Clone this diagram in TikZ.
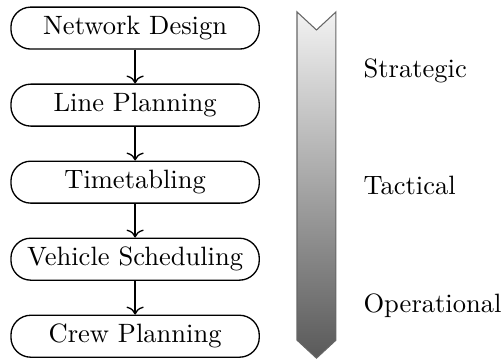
\documentclass[tikz,border=0pt]{standalone}
\usetikzlibrary{positioning, arrows.meta}

\begin{document}
\begin{tikzpicture}[
    stage/.style={draw, line width=0.5pt, rectangle, rounded corners=7.5pt, minimum width=3.29cm,
                  minimum height=0.556cm, inner xsep=1pt, inner ysep=0pt},
    flow/.style={line width=0.5pt, -{To[width=6.5pt, length=3pt]}},
    level/.style={anchor=base west},
    node distance=0.447cm
  ]
    \useasboundingbox (0,0) rectangle (6.664,-4.756);

    % Planning stages
    \node[stage] (netdesign) at (1.79,-0.372) {Network Design};
    \node[stage, below=of netdesign] (lineplan) {Line Planning};
    \node[stage, below=of lineplan] (timetab) {Timetabling};
    \node[stage, below=of timetab] (vehsched) {Vehicle Scheduling};
    \node[stage, below=of vehsched] (crewplan) {Crew Planning};

    % Arrows between stages
    \foreach \a/\b in {netdesign/lineplan, lineplan/timetab, timetab/vehsched, vehsched/crewplan}
      \draw[flow] (\a) -- (\b);

    % Shaded band on the right
    \shade[top color=gray!10, bottom color=black!65, draw=black!60]
      (3.935,-0.158) -- (4.193,-0.397) -- (4.451,-0.158) -- (4.451,-4.506)
      -- (4.193,-4.745) -- (3.935,-4.506) -- cycle;

    % Planning levels
    \node[level] (strat) at (4.693,-1.026) {Strategic};
    \node[level] (tact) at (4.693,-2.58) {Tactical};
    \node[level] (oper) at (4.693,-4.134) {Operational};

\end{tikzpicture}
\end{document}
